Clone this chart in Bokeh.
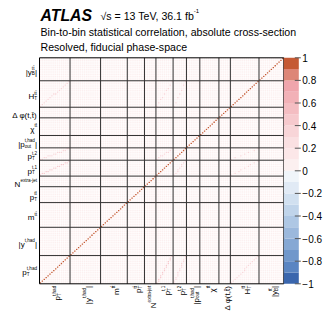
import numpy as np
from bokeh.plotting import figure
from bokeh.models import LinearColorMapper, Range1d, ColumnDataSource
from bokeh.transform import transform
from bokeh.core.properties import value
from bokeh.embed import file_html
from bokeh.resources import INLINE

# ---------------- data ----------------
variables = ["pt_thad", "abs_y_thad", "m_tt", "pt_tt", "n_extra_jet", "pt_t1",
             "pt_t2", "abs_pout", "chi_tt", "dphi_tt", "ht_tt", "abs_yb_tt"]
n_bins = [16, 16, 14, 9, 6, 9, 7, 7, 10, 6, 15, 13]

diag_value = 1.0          # bin with itself
background_corr = 0.05    # typical bin-to-bin statistical correlation
correlated_pairs = [("pt_thad", "pt_t1"), ("pt_thad", "pt_t2"), ("pt_thad", "ht_tt"),
                    ("pt_t1", "pt_t2"), ("pt_t1", "ht_tt"), ("pt_t2", "ht_tt")]
pair_corr = [0.45, 0.35, 0.4, 0.35, 0.4, 0.35]

label_base = ["p", "|y", "m", "p", "N", "p", "p", "|p", "\u03c7", "\u0394 \u03c6(t,t\u0304)", "H", "|y"]
label_sub = ["T", "", "", "T", "", "T", "T", "out", "", "", "T", "B"]
label_sup = ["t,had", "t,had", "tt\u0304", "tt\u0304", "extra-jet", "t,1", "t,2", "t,had",
             "tt\u0304", "", "tt\u0304", "tt\u0304"]
label_end = ["", "|", "", "", "", "", "", "|", "", "", "", "|"]

cb_ticks = [-1, -0.8, -0.6, -0.4, -0.2, 0, 0.2, 0.4, 0.6, 0.8, 1]
cb_labels = ["\u22121", "\u22120.8", "\u22120.6", "\u22120.4", "\u22120.2", "0",
             "0.2", "0.4", "0.6", "0.8", "1"]

title_atlas = "ATLAS"
title_energy = "\u221as = 13 TeV, 36.1 fb"
title_energy_sup = "-1"
title_line2 = "Bin-to-bin statistical correlation, absolute cross-section"
title_line3 = "Resolved, fiducial phase-space"

# ---------------- styles / layout ----------------
palette = ["#3a66ad", "#5a85c2", "#7097cb", "#86a8d4", "#9bb8dc", "#aec7e4", "#c0d4ea",
           "#d1e0f0", "#e1eaf5", "#f0f5fa",
           "#fcf0f0", "#fce7e8", "#fae0e2", "#f8d5d8", "#f6c9cd", "#f4bdc2", "#f2b1b7",
           "#efa5ac", "#dd8677", "#c55a35"]
FONT = "Liberation Sans"
W_PX, H_PX = 332, 322
FX0, FX1, FY0, FY1 = 39.0, 283.3, 57.3, 283.3   # matrix frame on canvas (px)
CB_W = 15.0
CELL = 0.72                                       # drawn cell size (fraction of a bin)

# ---------------- build matrix ----------------
N = int(sum(n_bins))
starts = np.cumsum([0] + n_bins[:-1])
corr = np.full((N, N), background_corr)
for (a, b), c in zip(correlated_pairs, pair_corr):
    ia, ib = variables.index(a), variables.index(b)
    na, nb = n_bins[ia], n_bins[ib]
    for i in range(na):
        j = int(round(i * (nb - 1) / (na - 1)))
        corr[starts[ia] + i, starts[ib] + j] = c
        corr[starts[ib] + j, starts[ia] + i] = c
np.fill_diagonal(corr, diag_value)

iy, ix = np.indices((N, N))
cells = ColumnDataSource(dict(x=(ix + 0.5).ravel(), y=(iy + 0.5).ravel(), v=corr.ravel()))

mapper = LinearColorMapper(palette=palette, low=-1, high=1)

p = figure(width=W_PX, height=H_PX, x_range=Range1d(0, W_PX), y_range=Range1d(H_PX, 0),
           x_axis_type=None, y_axis_type=None, output_backend="svg", toolbar_location=None,
           min_border=0)
p.grid.visible = False
p.outline_line_color = None
p.background_fill_color = "white"
p.border_fill_color = "white"

kx = N / (FX1 - FX0)
ky = N / (FY1 - FY0)
kv = 2.0 / (FY1 - FY0)
p.extra_x_ranges = {"bx": Range1d(-FX0 * kx, (W_PX - FX0) * kx)}
p.extra_y_ranges = {"by": Range1d(-(H_PX - FY1) * ky, FY1 * ky),
                    "cv": Range1d(-1 - (H_PX - FY1) * kv, 1 + FY0 * kv)}

# matrix cells
p.rect(x="x", y="y", width=CELL, height=CELL, source=cells,
       fill_color=transform("v", mapper), line_color=None,
       x_range_name="bx", y_range_name="by")
edges = np.cumsum(n_bins)[:-1]
p.segment(x0=edges, y0=0, x1=edges, y1=N, line_color="#333333", line_width=1,
          x_range_name="bx", y_range_name="by")
p.segment(x0=0, y0=edges, x1=N, y1=edges, line_color="#333333", line_width=1,
          x_range_name="bx", y_range_name="by")
p.quad(left=0, right=N, bottom=0, top=N, fill_color=None, line_color="black", line_width=1,
       x_range_name="bx", y_range_name="by")

# colour bar
nlev = len(palette)
lev_lo = [-1 + 2.0 * i / nlev for i in range(nlev)]
lev_hi = [-1 + 2.0 * (i + 1) / nlev for i in range(nlev)]
p.quad(left=FX1, right=FX1 + CB_W, bottom=lev_lo, top=lev_hi, fill_color=palette,
       line_color=None, y_range_name="cv")
p.segment(x0=FX1 + CB_W - 4, x1=FX1 + CB_W + 2, y0=cb_ticks, y1=cb_ticks,
          line_color="#555555", line_width=1, y_range_name="cv")
p.text(x=FX1 + CB_W + 3.5, y=cb_ticks, text=cb_labels, text_font=value(FONT),
       text_font_size="10px", text_align="left", text_baseline="middle",
       text_color="black", y_range_name="cv")

# ---------------- axis labels ----------------
W = {"p": 556, "T": 611, "t": 278, ",": 278, "h": 556, "a": 556, "d": 556, "|": 260,
     "y": 500, "m": 833, "N": 722, "e": 556, "x": 500, "r": 333, "-": 333, "j": 222,
     "1": 556, "2": 556, "o": 556, "u": 556, "\u03c7": 520, "\u0394": 668, "\u03c6": 640,
     "(": 333, ")": 333, " ": 278, "H": 722, "B": 667, "\u0304": 0, "s": 500, "=": 584,
     "3": 556, "V": 667, "6": 556, ".": 278, "f": 278, "b": 556, "\u221a": 549}


def tw(s, size):
    return sum(W.get(ch, 556) for ch in s) / 1000.0 * size


BASE = 8.0
SCRIPT = 4.6
RISE = 3.6
DROP = 1.8
cap_half = 0.716 * BASE / 2

yl = dict(x=[], y=[], text=[], xo=[], yo=[], fs=[])
xl = dict(x=[], y=[], text=[], xo=[], yo=[], fs=[])
for k in range(len(variables)):
    c = float(starts[k] + n_bins[k] / 2.0)
    wb = tw(label_base[k], BASE)
    ws = max(tw(label_sub[k], SCRIPT), tw(label_sup[k], SCRIPT))
    we = tw(label_end[k], BASE)
    total = wb + ws + we
    pcs = [(label_base[k], 0.0, 0.0, BASE)]
    if label_sub[k]:
        pcs.append((label_sub[k], wb, -DROP, SCRIPT))
    if label_sup[k]:
        pcs.append((label_sup[k], wb, RISE, SCRIPT))
    if label_end[k]:
        pcs.append((label_end[k], wb + ws, 0.0, BASE))
    for txt, along, rise, size in pcs:
        yl["x"].append(0.0); yl["y"].append(c); yl["text"].append(txt)
        yl["xo"].append(-2.5 - total + along); yl["yo"].append(cap_half - rise)
        yl["fs"].append(f"{size}px")
        xl["x"].append(c); xl["y"].append(0.0); xl["text"].append(txt)
        xl["xo"].append(cap_half - rise); xl["yo"].append(2.0 + total - along)
        xl["fs"].append(f"{size}px")

p.text(x=yl["x"], y=yl["y"], text=yl["text"], x_offset=yl["xo"], y_offset=yl["yo"],
       text_font_size=yl["fs"], text_font=value(FONT), text_align="left",
       text_baseline="alphabetic", text_color="black", x_range_name="bx", y_range_name="by")
p.text(x=xl["x"], y=xl["y"], text=xl["text"], x_offset=xl["xo"], y_offset=xl["yo"],
       text_font_size=xl["fs"], angle=np.pi / 2, text_font=value(FONT), text_align="left",
       text_baseline="alphabetic", text_color="black", x_range_name="bx", y_range_name="by")

# ---------------- titles ----------------
TS = 10.6
p.text(x=[40], y=[15], text=[title_atlas], text_font=value(FONT), text_font_style="bold italic",
       text_font_size="15.8px", text_baseline="alphabetic", text_color="black")
p.text(x=[100], y=[15], text=[title_energy], text_font=value(FONT),
       text_font_size=f"{TS}px", text_baseline="alphabetic", text_color="black")
p.text(x=[100 + tw(title_energy, TS) - 2.5], y=[10.5], text=[title_energy_sup],
       text_font=value(FONT), text_font_size="6px", text_baseline="alphabetic", text_color="black")
p.text(x=[40], y=[31.5], text=[title_line2], text_font=value(FONT),
       text_font_size=f"{TS}px", text_baseline="alphabetic", text_color="black")
p.text(x=[40], y=[46], text=[title_line3], text_font=value(FONT),
       text_font_size=f"{TS}px", text_baseline="alphabetic", text_color="black")

open("out.html", "w").write(file_html(p, INLINE))
